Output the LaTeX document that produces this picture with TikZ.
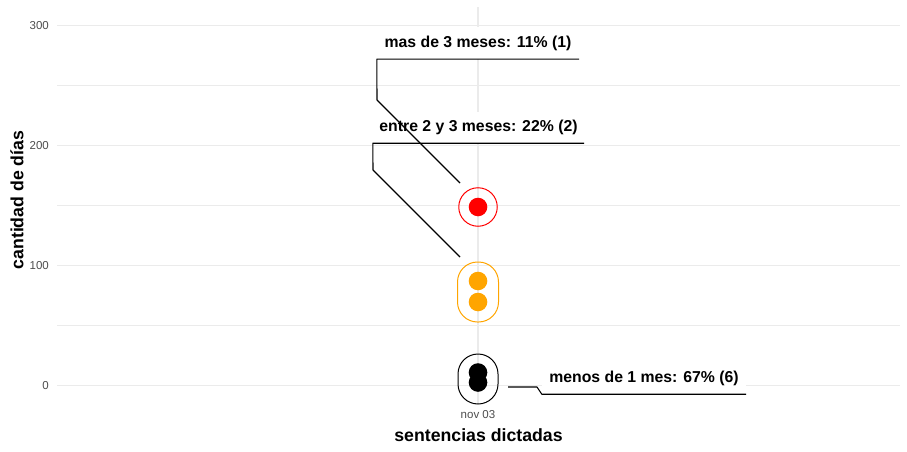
\documentclass[tikz,border=0pt]{standalone}
\usepackage{fontspec}
\setmainfont{Liberation Sans}
\usetikzlibrary{positioning}
\definecolor{gridgray}{HTML}{EBEBEB}
\definecolor{tickgray}{HTML}{4D4D4D}
\definecolor{ringorange}{HTML}{FFA500}

\begin{document}
\begin{tikzpicture}
[x=1pt,y=-1pt,
dot/.style = {circle, inner sep=0pt, minimum size=18.6pt},
ring/.style = {draw, line width=1pt, inner sep=0pt},
tag/.style = {fill=white, inner sep=0pt, font=\bfseries\fontsize{15.8}{18}\selectfont},
ticklabel/.style = {text=tickgray, inner sep=0pt, font=\fontsize{11.5}{13}\selectfont},
axistitle/.style = {inner sep=0pt, font=\bfseries\fontsize{17.7}{20}\selectfont},
gridline/.style = {draw=gridgray, line width=1.1pt},
leader/.style = {draw=black, line width=1.1pt, line join=round},
]
\useasboundingbox (0,0) rectangle (907,452);
\foreach \y in {85,205,325} \draw[gridline, line width=0.8pt] (57,\y) -- (900,\y);
\foreach \y/\v in {25.5/300,145.5/200,265.5/100,385.5/0} {
  \draw[gridline] (57,\y) -- (900,\y);
  \node[ticklabel, anchor=east] (y\v) at (49,\y) {\v};
}
\draw[gridline] (478,7) -- (478,404);
\node[ticklabel] (nov) at (478,415) {nov 03};
\node[axistitle] (xtitle) at (478.5,435) {sentencias dictadas};
\node[axistitle, rotate=90] (ytitle) at (17,200) {cantidad de días};

\node[tag, minimum width=202pt, minimum height=32pt] (t1) at (478,43) {mas de 3 meses: 11\% (1)};
\node[tag, minimum width=211pt, minimum height=31pt] (t2) at (478.5,127.5) {entre 2 y 3 meses: 22\% (2)};
\node[tag, minimum width=204pt, minimum height=32pt] (t3) at (644,378) {menos de 1 mes: 67\% (6)};

\node[dot, fill=red] (d1) at (478,207) {};
\node[ring, draw=red, circle, minimum size=38.5pt] (r1) at (478,207) {};
\node[dot, fill=ringorange] (d2) at (478,281) {};
\node[dot, fill=ringorange] (d3) at (478,302) {};
\node[ring, draw=ringorange, rounded corners=20pt, minimum width=41pt, minimum height=60pt] (r2) at (478,292) {};
\node[dot, fill=black] (d4) at (478,372.5) {};
\node[dot, fill=black] (d5) at (478,382.5) {};
\node[ring, draw=black, rounded corners=20pt, minimum width=40pt, minimum height=50pt] (r3) at (478,379) {};

\coordinate (k1) at (377,100);
\coordinate (e1) at (460,183);
\coordinate (k2) at (373,170);
\coordinate (e2) at (460,257);
\coordinate (s3) at (508,387);
\coordinate (k3) at (537,387);
\draw[leader] (t1.south east) -- (t1.south west) -- (k1) -- (e1);
\draw[leader] (t2.south east) -- (t2.south west) -- (k2) -- (e2);
\draw[leader] (s3) -- (k3) -- (t3.south west) -- (t3.south east);
\end{tikzpicture}
\end{document}
